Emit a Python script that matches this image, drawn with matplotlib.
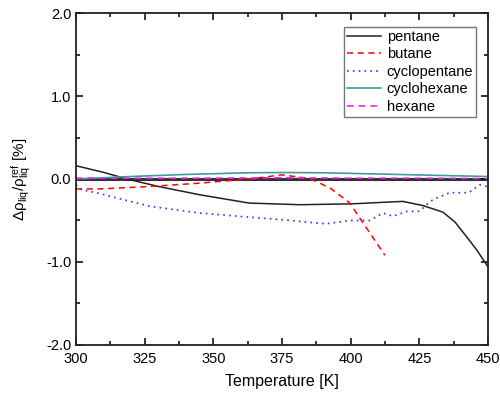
import numpy as np
import matplotlib
matplotlib.use("Agg")
import matplotlib.pyplot as plt
from matplotlib.ticker import MultipleLocator, FormatStrFormatter

plt.rcParams['font.family'] = ['Liberation Sans', 'DejaVu Sans']
plt.rcParams['mathtext.fontset'] = 'custom'
plt.rcParams['mathtext.rm'] = 'Liberation Sans'
plt.rcParams['mathtext.it'] = 'Liberation Sans:italic'
plt.rcParams['axes.unicode_minus'] = False

# pentane
pentane_T = [300, 310, 318.6, 330, 345, 363, 381.5, 400, 419, 426.3, 433.6, 438, 442.3, 446, 449.6, 450]
pentane_d = [0.16, 0.08, 0.0, -0.09, -0.19, -0.29, -0.31, -0.30, -0.27, -0.32, -0.40, -0.52, -0.70, -0.86, -1.04, -1.06]

# butane
butane_T = [300, 308.7, 327, 345, 363, 375, 384, 387.6, 393, 399.7, 404.5, 408, 412.5]
butane_d = [-0.12, -0.12, -0.09, -0.05, 0.0, 0.05, 0.01, -0.03, -0.12, -0.29, -0.53, -0.70, -0.92]

# cyclopentane
cpent_T = [300, 302, 308, 315, 327, 345, 363, 375, 387.6, 391, 400, 407, 411.8, 415.4, 420.5, 425, 429, 430,
           436, 443, 447, 449.5]
cpent_d = [-0.07, -0.13, -0.17, -0.23, -0.33, -0.41, -0.46, -0.49, -0.53, -0.54, -0.50, -0.50, -0.41, -0.45,
           -0.39, -0.39, -0.27, -0.25, -0.165, -0.165, -0.07, -0.09]

# cyclohexane
chex_T = [300, 320, 340, 363, 375, 390, 410, 430, 450]
chex_d = [0.0, 0.03, 0.055, 0.075, 0.078, 0.075, 0.06, 0.045, 0.03]

# hexane
hex_T = [300, 325, 350, 375, 400, 425, 450]
hex_d = [0.01, 0.01, 0.01, 0.015, 0.01, 0.01, 0.005]

fig = plt.figure(figsize=(5, 3.96), dpi=100)
ax = fig.add_axes([0.152, 0.129, 0.824, 0.838])

ax.axhline(0, color='#333333', lw=2.2, zorder=1)
ax.plot(pentane_T, pentane_d, color='#222222', lw=1.1, label='pentane')
ax.plot(butane_T, butane_d, color='red', lw=1.1, ls=(0, (4, 3)), label='butane')
ax.plot(cpent_T, cpent_d, color='#3333ff', lw=1.2, ls=(0, (1, 2.5)), label='cyclopentane')
ax.plot(chex_T, chex_d, color='#3a9e9a', lw=1.2, label='cyclohexane')
ax.plot(hex_T, hex_d, color='#ee22ee', lw=1.2, ls=(0, (4, 3)), label='hexane')

ax.set_xlim(300, 450)
ax.set_ylim(-2, 2)
ax.xaxis.set_major_locator(MultipleLocator(25))
ax.xaxis.set_minor_locator(MultipleLocator(12.5))
ax.yaxis.set_major_locator(MultipleLocator(1))
ax.yaxis.set_minor_locator(MultipleLocator(0.5))
ax.yaxis.set_major_formatter(FormatStrFormatter('%.1f'))
ax.tick_params(which='both', direction='in', top=True, right=True, labelsize=10.5, width=1.1)
ax.tick_params(which='major', length=5)
ax.tick_params(which='minor', length=3)
ax.tick_params(axis='x', pad=5)
for s in ax.spines.values():
    s.set_linewidth(1.3)
    s.set_color('#222222')

ax.set_xlabel('Temperature [K]', fontsize=11.5, labelpad=6)
ax.set_ylabel(r'$\mathrm{\Delta\rho_{liq}/\rho_{liq}^{ref}}$ [%]', fontsize=11, labelpad=9)

leg = ax.legend(loc='upper right', bbox_to_anchor=(0.971, 0.958), fontsize=10.5, frameon=True, fancybox=False,
                handlelength=2.3, handletextpad=0.4, labelspacing=0.24, borderpad=0.2, borderaxespad=0)
leg.get_frame().set_edgecolor('#555555')
leg.get_frame().set_linewidth(1.0)

fig.savefig('out.png', dpi=100)
